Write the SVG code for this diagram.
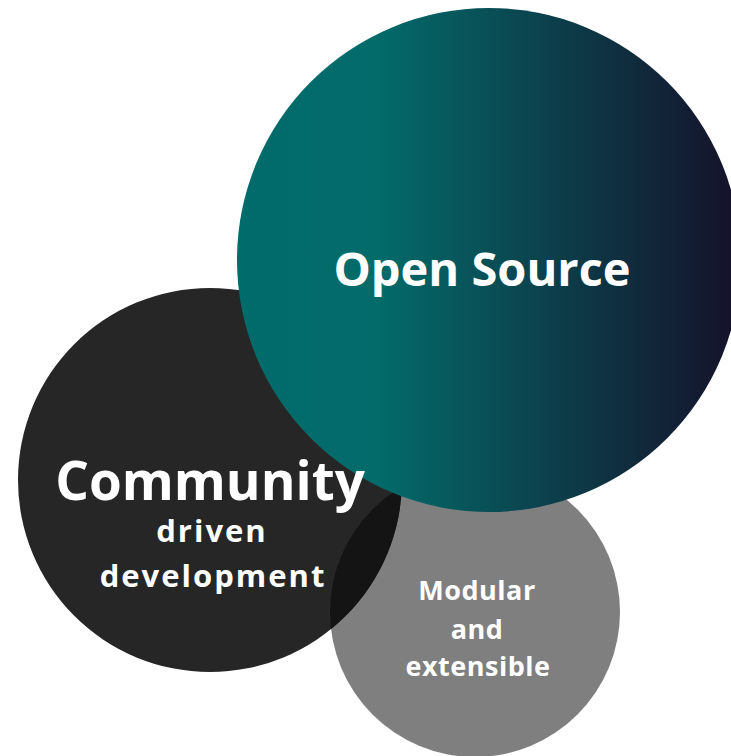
<svg xmlns="http://www.w3.org/2000/svg" width="731" height="756" viewBox="0 0 731 756">
<defs>
<linearGradient id="tealGrad" gradientUnits="userSpaceOnUse" x1="237" y1="0" x2="735" y2="0">
<stop offset="0" stop-color="#006b6b"/>
<stop offset="0.28" stop-color="#036b6a"/>
<stop offset="1" stop-color="#15122b"/>
</linearGradient>
<clipPath id="gclip"><circle cx="475" cy="612" r="145"/></clipPath>
<style>
.lbl{font-family:"Open Sans","Liberation Sans",sans-serif;font-weight:bold;fill:#ffffff;text-anchor:middle}
</style>
</defs>
<rect width="731" height="756" fill="#ffffff"/>
<g id="modular">
<circle cx="475" cy="612" r="145" fill="#7f7f7f"/>
</g>
<g id="community">
<circle cx="210" cy="480" r="192" fill="#262626"/>
<circle cx="210" cy="480" r="192" fill="#141414" clip-path="url(#gclip)"/>
</g>
<g id="open-source">
<circle cx="489" cy="260" r="252" fill="url(#tealGrad)"/>
</g>
<g id="connectors"></g>
<g id="labels">
<text class="lbl" x="482" y="286" font-size="47">Open Source</text>
<text class="lbl" x="210" y="500" font-size="53">Community</text>
<text class="lbl" x="212" y="542" font-size="31" letter-spacing="2">driven</text>
<text class="lbl" x="213" y="587" font-size="31" letter-spacing="2">development</text>
<text class="lbl" x="477" y="600" font-size="27" letter-spacing="0.5">Modular</text>
<text class="lbl" x="477" y="639" font-size="27" letter-spacing="0.5">and</text>
<text class="lbl" x="478" y="676" font-size="27" letter-spacing="0.5">extensible</text>
</g>
</svg>
